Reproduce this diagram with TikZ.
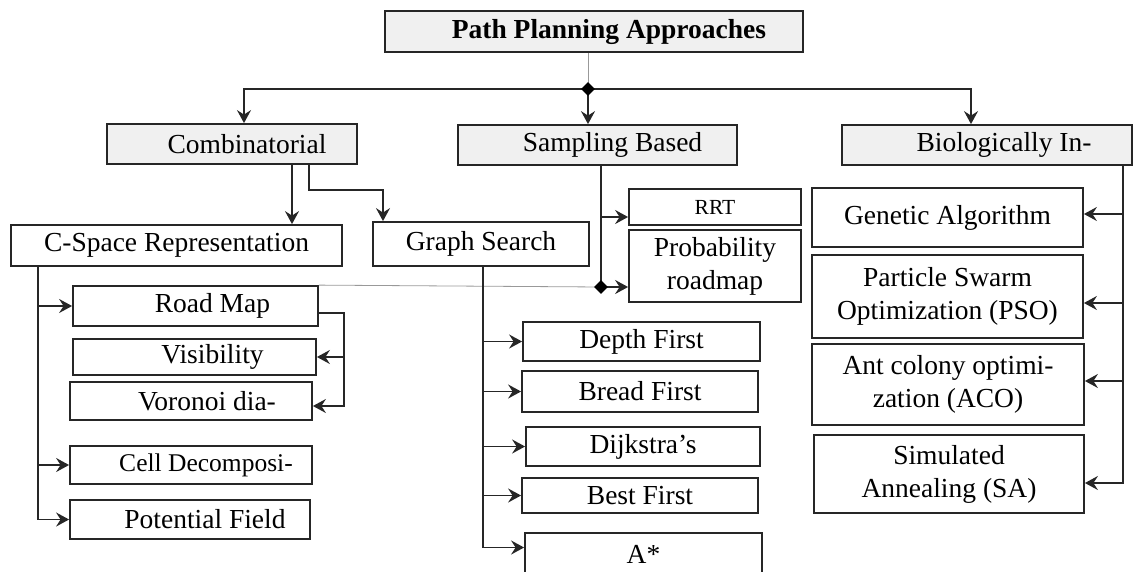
\documentclass[tikz,border=0pt]{standalone}
\usepackage{fontspec}
\setmainfont{Liberation Serif}
\usetikzlibrary{arrows.meta,shapes.geometric}
\definecolor{ink}{HTML}{262626}
\definecolor{headfill}{HTML}{F0F0F0}
\newcommand{\pbox}[7][]{%
  \node[box,#1,minimum width={(#5)-(#3)}, minimum height={(#6)-(#4)}] (#2) at ({((#3)+(#5))/2},{((#4)+(#6))/2}) {#7};}
\newcommand{\sh}[1]{\hspace*{#1pt}}
\begin{document}
\begin{tikzpicture}[x=1pt,y=-1pt,
  box/.style={draw=ink, line width=1.8pt, fill=white, inner sep=0pt, align=center,
    font=\fontsize{27.5}{33}\selectfont},
  head/.style={fill=headfill},
  line/.style={draw=ink, line width=1.7pt},
  arr/.style={line, -{Stealth[length=13pt,width=14pt,inset=4.5pt]}},
  faint/.style={draw=gray!80, line width=0.8pt},
  diam/.style={diamond, fill=black, draw=none, minimum size=14pt, inner sep=0pt}]
\useasboundingbox (0,0) rectangle (1134,571);
% boxes
\pbox[head,font=\bfseries\fontsize{27.5}{33}\selectfont]{top}{385}{11}{803}{52}{\sh{30}Path Planning Approaches}
\pbox[head]{comb}{107}{124}{357}{164}{\sh{30}Combinatorial}
\pbox[head]{samp}{458}{125}{737}{165}{\sh{30}Sampling Based}
\pbox[head]{bio}{842}{125}{1132}{165}{\sh{34}Biologically In-}
\pbox{cspace}{11}{225}{342}{266}{C-Space Representation}
\pbox{graph}{373}{222}{589}{266}{Graph Search}
\pbox[font=\fontsize{21.5}{26}\selectfont]{rrt}{629}{189}{801}{225}{RRT}
\pbox{prob}{629}{230}{801}{302}{Probability\\roadmap}
\pbox{road}{73}{286}{318}{326}{\sh{34}Road Map}
\pbox{vis}{73}{339}{316}{375}{\sh{36}Visibility}
\pbox{vor}{70}{382}{312}{420}{\sh{32}Voronoi dia-}
\pbox[font=\fontsize{25.5}{30}\selectfont]{cell}{70}{446}{312}{484}{\sh{30}Cell Decomposi-}
\pbox{pot}{70}{500}{310}{539}{\sh{30}Potential Field}
\pbox{depth}{523}{322}{760}{361}{Depth First}
\pbox{bread}{522}{371}{758}{412}{Bread First}
\pbox{dijk}{526}{427}{760}{466}{Dijkstra’s}
\pbox{best}{522}{478}{758}{513}{Best First}
\pbox{astar}{525}{533}{762}{575}{A*}
\pbox{gen}{812}{188}{1083}{247}{Genetic Algorithm}
\pbox{pso}{812}{255}{1083}{338}{Particle Swarm\\Optimization (PSO)}
\pbox{aco}{812}{344}{1084}{425}{Ant colony optimi-\\zation (ACO)}
\pbox{sa}{814}{435}{1084}{513}{Simulated\\Annealing (SA)}
% top level
\coordinate (d1) at (588,89);
\draw[faint] ([xshift=-6pt]top.south) -- (d1);
\draw[arr] (d1) -| ([xshift=12pt]comb.north);
\draw[arr] (d1) -| ([xshift=-16pt]bio.north);
\draw[arr] (d1) -- (d1 |- samp.north);
\node[diam] (dm1) at (d1) {};
% combinatorial
\draw[arr] ([xshift=60pt]comb.south) -- ([xshift=60pt]comb.south |- cspace.north);
\draw[arr] ([xshift=77pt]comb.south) -- ++(0,25) -| ([xshift=-98pt]graph.north);
% sampling
\coordinate (d2) at (601,287);
\draw[faint] (road.north east) -- (d2);
\draw[line] ([xshift=3.5pt]samp.south) -- (d2);
\coordinate (r1) at ([yshift=-10pt]rrt.west);
\draw[arr] (d2 |- r1) -- (r1);
\draw[arr] (d2) -- (d2 -| prob.west);
\node[diam] (dm2) at (d2) {};
% c-space
\coordinate (cs) at ([xshift=-138.5pt]cspace.south);
\draw[arr] (cs) |- (pot.west);
\draw[arr] (cs |- road.west) -- (road.west);
\draw[arr] (cs |- cell.west) -- (cell.west);
% road map bracket
\coordinate (rb) at ([xshift=25pt,yshift=-7pt]road.east);
\draw[arr] ([yshift=-7pt]road.east) -- (rb) |- ([yshift=-5pt]vor.east);
\draw[arr] (rb |- vis.east) -- (vis.east);
% graph search
\coordinate (gs) at ([xshift=2pt]graph.south);
\draw[arr] (gs) |- ([yshift=6.5pt]astar.west);
\draw[arr] (gs |- depth.west) -- (depth.west);
\draw[arr] (gs |- bread.west) -- (bread.west);
\draw[arr] (gs |- dijk.west) -- (dijk.west);
\draw[arr] (gs |- best.west) -- (best.west);
% biologically inspired
\coordinate (bs) at ([xshift=136pt]bio.south);
\coordinate (g1) at ([yshift=3.5pt]gen.east);
\coordinate (p1) at ([yshift=-6.5pt]pso.east);
\coordinate (a1) at ([yshift=3.5pt]aco.east);
\coordinate (s1) at ([yshift=-9pt]sa.east);
\draw[arr] (bs) |- (s1);
\draw[arr] (bs |- g1) -- (g1);
\draw[arr] (bs |- p1) -- (p1);
\draw[arr] (bs |- a1) -- (a1);
\end{tikzpicture}
\end{document}
